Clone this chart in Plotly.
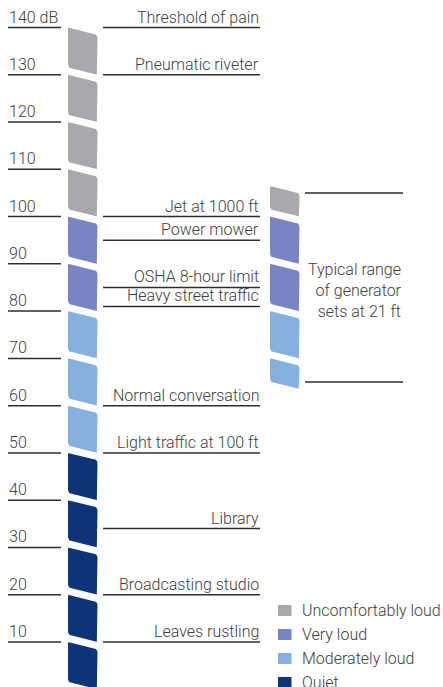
import plotly.graph_objects as go

# ---------------- data ----------------
scale_db = [140, 130, 120, 110, 100, 90, 80, 70, 60, 50, 40, 30, 20, 10]
scale_labels = ["140 dB", "130", "120", "110", "100", "90", "80", "70",
                "60", "50", "40", "30", "20", "10"]

event_names = ["Threshold of pain", "Pneumatic riveter", "Jet at 1000 ft",
               "Power mower", "OSHA 8-hour limit", "Heavy street traffic",
               "Normal conversation", "Light traffic at 100 ft", "Library",
               "Broadcasting studio", "Leaves rustling"]
event_db = [140, 130, 100, 95, 85, 81, 60, 50, 34, 20, 10]

category_names = ["Uncomfortably loud", "Very loud", "Moderately loud", "Quiet"]
category_low = [100, 80, 50, 0]
category_high = [140, 100, 80, 50]
category_colors = ["#A7A9AC", "#7984C3", "#85B1DF", "#0D3479"]

scale_top = 140
scale_bottom = 0
segment_step = 10

generator_low = 65
generator_high = 105
generator_label = "Typical range<br>of generator<br>sets at 21 ft"

# ---------------- layout / style ----------------
W, H = 443, 687
Y_TOP_DB, Y_BOT_DB = 145.82, 0.48
PX_PER_DB = H / (Y_TOP_DB - Y_BOT_DB)
SLANT = 1.45          # dB drop of the slanted edges across a column
R_BIG, R_SMALL = 4.0, 1.0   # corner radii in px
MAIN_X = (68, 97.5)
GEN_X = (270, 299.5)
FONT = dict(family="Roboto, Liberation Sans, sans-serif", size=16, color="#404040", weight=300)
LINE_COLOR = "#2e2e2e"


def color_for(mid):
    for lo, hi, c in zip(category_low, category_high, category_colors):
        if lo <= mid < hi:
            return c
    return category_colors[0]


def rounded_poly(xl, xr, tl, tr, br, bl):
    # corners in px-like space (y down)
    pts = [(xl, -tl * PX_PER_DB), (xr, -tr * PX_PER_DB),
           (xr, -br * PX_PER_DB), (xl, -bl * PX_PER_DB)]
    radii = [R_SMALL, R_BIG, R_SMALL, R_BIG]
    out = []
    n = len(pts)
    for i in range(n):
        P = pts[i]
        A = pts[i - 1]
        B = pts[(i + 1) % n]
        r = radii[i]

        def toward(Q):
            dx, dy = Q[0] - P[0], Q[1] - P[1]
            d = (dx * dx + dy * dy) ** 0.5
            return (P[0] + dx * r / d, P[1] + dy * r / d)
        s, e = toward(A), toward(B)
        for k in range(7):
            t = k / 6
            x = (1 - t) ** 2 * s[0] + 2 * (1 - t) * t * P[0] + t ** 2 * e[0]
            y = (1 - t) ** 2 * s[1] + 2 * (1 - t) * t * P[1] + t ** 2 * e[1]
            out.append((x, -y / PX_PER_DB))
    out.append(out[0])
    return out


# group polygons by colour
polys = {c: ([], []) for c in category_colors}

top = scale_top
while top > scale_bottom:
    bot = top - segment_step
    c = color_for((top + bot) / 2)
    pts = rounded_poly(MAIN_X[0], MAIN_X[1], top, top - SLANT, bot, bot + SLANT)
    polys[c][0].extend([p[0] for p in pts] + [None])
    polys[c][1].extend([p[1] for p in pts] + [None])
    top = bot

gen_levels = [generator_high] + [l for l in range(scale_top, scale_bottom, -segment_step)
                                 if generator_low < l < generator_high] + [generator_low]
for a, b in zip(gen_levels[:-1], gen_levels[1:]):
    if a == generator_high:
        tl, tr = a + SLANT, a
    else:
        tl, tr = a, a - SLANT
    if b == generator_low:
        bl, br = b, b - SLANT
    else:
        bl, br = b + SLANT, b
    c = color_for((a + b) / 2)
    pts = rounded_poly(GEN_X[0], GEN_X[1], tl, tr, br, bl)
    polys[c][0].extend([p[0] for p in pts] + [None])
    polys[c][1].extend([p[1] for p in pts] + [None])

fig = go.Figure()
for c in category_colors:
    xs, ys = polys[c]
    fig.add_trace(go.Scatter(x=xs, y=ys, mode="lines", fill="toself",
                             fillcolor=c, line=dict(width=0, color=c),
                             hoverinfo="skip", showlegend=False))

# scale tick lines
lx, ly = [], []
for v in scale_db:
    lx += [8, 61, None]
    ly += [v, v, None]
fig.add_trace(go.Scatter(x=lx, y=ly, mode="lines", line=dict(color=LINE_COLOR, width=1.5),
                         hoverinfo="skip", showlegend=False))
# event lines
ex, ey = [], []
for v in event_db:
    ex += [103, 260, None]
    ey += [v, v, None]
fig.add_trace(go.Scatter(x=ex, y=ey, mode="lines", line=dict(color=LINE_COLOR, width=1.5),
                         hoverinfo="skip", showlegend=False))
# generator range lines
gx, gy = [], []
for v in (generator_high, generator_low):
    gx += [305, 403, None]
    gy += [v, v, None]
fig.add_trace(go.Scatter(x=gx, y=gy, mode="lines", line=dict(color=LINE_COLOR, width=1.5),
                         hoverinfo="skip", showlegend=False))

annotations = []
for v, t in zip(scale_db, scale_labels):
    annotations.append(dict(x=7, y=v, text=t, xanchor="left", yanchor="bottom",
                            showarrow=False, font=FONT, yshift=-1))
for v, t in zip(event_db, event_names):
    annotations.append(dict(x=261, y=v, text=t, xanchor="right", yanchor="bottom",
                            showarrow=False, font=FONT, yshift=-1))
annotations.append(dict(x=404, y=(generator_low + generator_high) / 2, text=generator_label,
                        xanchor="right", yanchor="middle", align="right",
                        showarrow=False, font=FONT, yshift=-3))

shapes = []
row_px = [610.5, 634.5, 658.5, 682.5]
for name, c, rp in zip(category_names, category_colors, row_px):
    yc = 1 - rp / H
    shapes.append(dict(type="rect", xref="x", yref="paper", x0=278, x1=291.5,
                       y0=yc - 5.5 / H, y1=yc + 5.5 / H, fillcolor=c, line=dict(width=0)))
    annotations.append(dict(x=300, y=yc, xref="x", yref="paper", text=name,
                            xanchor="left", yanchor="middle", showarrow=False, font=FONT))

fig.update_layout(
    width=W, height=H, margin=dict(l=0, r=0, t=0, b=0),
    paper_bgcolor="white", plot_bgcolor="white",
    xaxis=dict(range=[0, W], visible=False, fixedrange=True),
    yaxis=dict(range=[Y_BOT_DB, Y_TOP_DB], visible=False, fixedrange=True),
    annotations=annotations, shapes=shapes, showlegend=False,
)

fig.write_html("out.html", config={"displayModeBar": False},
               post_script="document.body.style.margin='0';")
